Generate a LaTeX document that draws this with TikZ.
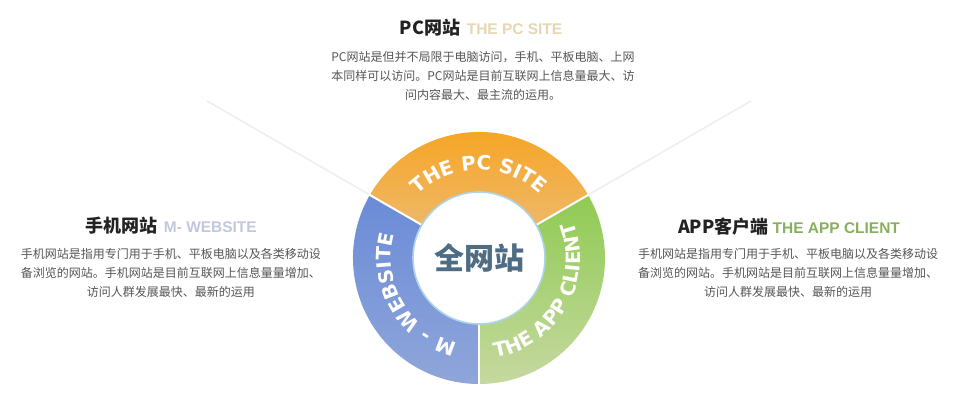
\documentclass[tikz,border=0pt]{standalone}
\usepackage{fontspec}
\usetikzlibrary{decorations.text}
\newfontfamily\cjk{Noto Sans CJK SC}
\newfontfamily\latinb{Liberation Sans}
\newfontfamily\ringfam{DejaVu Sans}
\newcommand\ringfont{\ringfam\bfseries\fontsize{14.8}{14.8}\selectfont}
\newcommand\titlefont{\cjk\bfseries\fontsize{13.5}{13.5}\selectfont}
\newcommand\subfont{\latinb\bfseries\fontsize{11.6}{11.6}\selectfont}
\newcommand\bodyfont{\cjk\fontsize{9}{14.25}\selectfont}
\definecolor{pcTop}{HTML}{F8A21A}
\definecolor{pcBot}{HTML}{EEB868}
\definecolor{appTop}{HTML}{8FCB52}
\definecolor{appBot}{HTML}{C6D8A0}
\definecolor{mTop}{HTML}{6A8BD8}
\definecolor{mBot}{HTML}{8FA6D9}
\definecolor{hubEdge}{HTML}{AED4E8}
\definecolor{hubIn}{HTML}{D6EAF5}
\definecolor{hubText}{HTML}{4E6D84}
\definecolor{pcSub}{HTML}{E6D6B2}
\definecolor{mSub}{HTML}{BFC8DE}
\definecolor{appSub}{HTML}{88AE5E}
\definecolor{bodyGray}{HTML}{555555}
\definecolor{titleDark}{HTML}{222222}
\definecolor{rayGray}{HTML}{EEEEEE}
\pgfdeclareradialshading{hubshade}{\pgfpoint{-4bp}{6bp}}{color(0bp)=(white); color(30bp)=(white); color(44bp)=(hubIn); color(50bp)=(hubEdge)}
\begin{document}
\begin{tikzpicture}[x=0.75pt,y=0.75pt,yscale=-1,xscale=1,
    title/.style={anchor=center,inner sep=0.75pt,text=titleDark},
    body/.style={anchor=center,inner sep=0.75pt,align=center,text=bodyGray,font=\bodyfont},
    ray/.style={draw=rayGray,line width=1.2},
    ringtext/.style={decorate,decoration={text along path,text align=center,text color=white,text={#1}}}]
    \useasboundingbox (0,0) rectangle (965,416);
    \coordinate (hub) at (479,258);
    % ring, drawn round the hub
    \begin{scope}[shift={(hub)},yscale=-1]
    \coordinate (rayLin) at (150:126);
    \coordinate (rayLout) at (150:314);
    \coordinate (rayRin) at (30:126);
    \coordinate (rayRout) at (30:314);
    \draw[ray] (rayLin) -- (rayLout);
    \draw[ray] (rayRin) -- (rayRout);
    %PC sector
    \shade[top color=pcTop,bottom color=pcBot] (150:66) -- (150:126) arc[start angle=150,end angle=30,radius=126] -- (30:66) arc[start angle=30,end angle=150,radius=66] -- cycle;
    %APP sector
    \shade[top color=appTop,bottom color=appBot] (-90:66) -- (-90:126) arc[start angle=-90,end angle=30,radius=126] -- (30:66) arc[start angle=30,end angle=-90,radius=66] -- cycle;
    %M sector
    \shade[top color=mTop,bottom color=mBot] (150:66) -- (150:126) arc[start angle=150,end angle=270,radius=126] -- (270:66) arc[start angle=270,end angle=150,radius=66] -- cycle;
    \foreach \a in {30,150,270}
      \draw[white,line width=1.5] (\a:62) -- (\a:127);
    % ring labels
    \path[ringtext={|\ringfont|THE PC SITE}] (150:88) arc[start angle=150,end angle=30,radius=88];
    \path[ringtext={|\ringfont|M - WEBSITE}] (270:88) arc[start angle=270,end angle=150,radius=88];
    \path[ringtext={|\ringfont|THE APP CLIENT}] (-90:101) arc[start angle=-90,end angle=30,radius=101];
    % hub
    \shade[shading=hubshade] (0,0) circle (66);
    \draw[hubEdge,line width=1.2] (0,0) circle (66);
    \end{scope}
    \node (hubLabel) at (hub) [inner sep=0.75pt,text=hubText] {\cjk\bfseries\fontsize{22.5}{22.5}\selectfont 全网站};
    % Text Node
    \node (pcTitle) at (481,28) [title] {\titlefont PC网站\hspace{5pt}{\subfont\color{pcSub}THE PC SITE}};
    % Text Node
    \node (pcBody) at (483,76) [body] {PC网站是但并不局限于电脑访问，手机、平板电脑、上网\\本同样可以访问。PC网站是目前互联网上信息量最大、访\\问内容最大、最主流的运用。};
    % Text Node
    \node (mTitle) at (171,226) [title] {\titlefont 手机网站\hspace{5pt}{\subfont\color{mSub}M- WEBSITE}};
    % Text Node
    \node (mBody) at (171,273) [body] {手机网站是指用专门用于手机、平板电脑以及各类移动设\\备浏览的网站。手机网站是目前互联网上信息量量增加、\\访问人群发展最快、最新的运用};
    % Text Node
    \node (appTitle) at (789,227) [title] {\titlefont APP客户端\hspace{3pt}{\subfont\color{appSub}THE APP CLIENT}};
    % Text Node
    \node (appBody) at (788,273) [body] {手机网站是指用专门用于手机、平板电脑以及各类移动设\\备浏览的网站。手机网站是目前互联网上信息量量增加、\\访问人群发展最快、最新的运用};
\end{tikzpicture}
\end{document}
